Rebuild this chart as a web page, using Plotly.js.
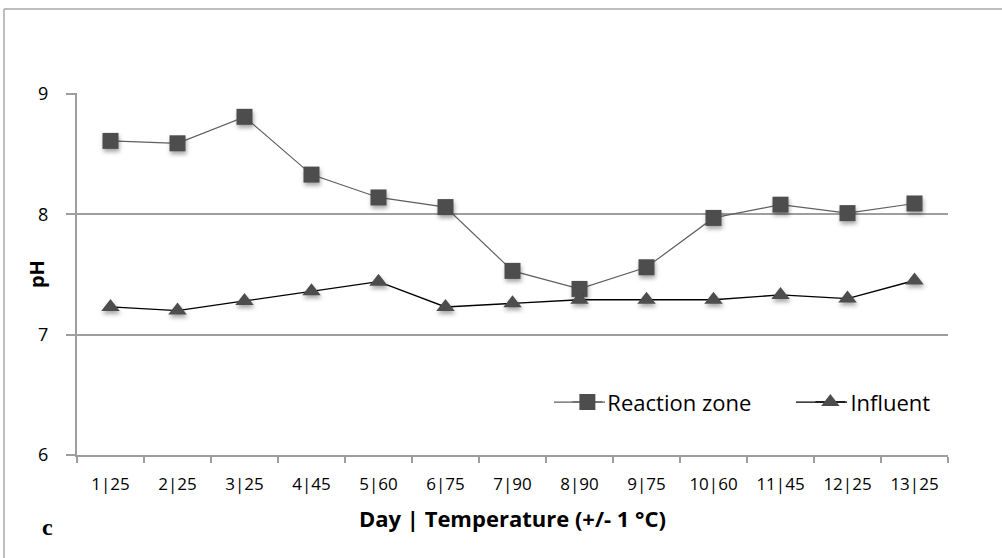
<!DOCTYPE html>
<html>
<head>
<meta charset="utf-8">
<script src="https://cdn.plot.ly/plotly-3.0.1.min.js"></script>
<style>
html,body{margin:0;padding:0;background:#fff;}
#chart{width:1002px;height:558px;}
#chart .scatterlayer .points path{filter: drop-shadow(1px 3px 2px rgba(0,0,0,0.35));}
</style>
</head>
<body>
<div id="chart"></div>
<script>
const categories = ["1|25","2|25","3|25","4|45","5|60","6|75","7|90","8|90","9|75","10|60","11|45","12|25","13|25"];
const reactionZone = [8.61, 8.59, 8.81, 8.33, 8.14, 8.06, 7.53, 7.38, 7.56, 7.97, 8.08, 8.01, 8.09];
const influent = [7.23, 7.20, 7.28, 7.36, 7.44, 7.23, 7.26, 7.29, 7.29, 7.29, 7.33, 7.30, 7.45];
const yTicks = [6, 7, 8, 9];

const font = "Open Sans, Liberation Sans, sans-serif";
const gridColor = "#9e9e9e";

const traces = [
  {
    x: categories, y: reactionZone, name: "Reaction zone", type: "scatter", mode: "lines+markers",
    line: {color: "#5f5f5f", width: 1.2},
    marker: {symbol: "square", size: 16, color: "#4d4d4d"},
    legend: "legend"
  },
  {
    x: categories, y: influent, name: "Influent", type: "scatter", mode: "lines+markers",
    line: {color: "#000000", width: 1.3},
    marker: {symbol: "triangle-up", size: 16, color: "#4d4d4d"},
    legend: "legend2"
  }
];

const legendStyle = {
  orientation: "h", xanchor: "left", yanchor: "middle", y: 0.146,
  font: {size: 22, family: font, color: "#000"}, bgcolor: "rgba(0,0,0,0)"
};

const layout = {
  width: 1002, height: 558,
  margin: {l: 77, r: 54, t: 93, b: 103},
  paper_bgcolor: "#fff", plot_bgcolor: "#fff",
  font: {family: font, color: "#000"},
  showlegend: true,
  legend: Object.assign({}, legendStyle, {x: 0.563}),
  legend2: Object.assign({}, legendStyle, {x: 0.842}),
  xaxis: {
    type: "category", range: [-0.5, 12.5], autorange: false,
    showgrid: false, showline: true, linecolor: gridColor, linewidth: 2,
    ticks: "outside", tickson: "boundaries", ticklen: 6, tickcolor: gridColor, tickwidth: 2,
    tickfont: {size: 17, family: font}, zeroline: false, ticklabelstandoff: 13,
    title: {text: "<b>Day | Temperature (+/- 1 °C)</b>", font: {size: 22, family: font}, standoff: 17}
  },
  yaxis: {
    range: [6, 9.008], autorange: false, tickvals: yTicks, ticktext: yTicks.map(String),
    showgrid: true, gridcolor: gridColor, gridwidth: 2,
    showline: true, linecolor: gridColor, linewidth: 2,
    ticks: "outside", ticklen: 9, tickcolor: gridColor, tickwidth: 2,
    tickfont: {size: 18, family: font}, zeroline: false, ticklabelstandoff: 14
  },
  shapes: [
    {type: "line", xref: "paper", yref: "paper", x0: -0.0838, x1: 1.07, y0: 1.232, y1: 1.232, line: {color: "#a8a8a8", width: 1.5}},
    {type: "line", xref: "paper", yref: "paper", x0: -0.0838, x1: -0.0838, y0: 1.232, y1: -0.3, line: {color: "#a8a8a8", width: 1.5}},
    {type: "line", xref: "paper", yref: "paper", x0: (554 - 77) / 871, x1: (605 - 77) / 871, y0: 0.146, y1: 0.146, line: {color: "#5f5f5f", width: 1.2}},
    {type: "line", xref: "paper", yref: "paper", x0: (796 - 77) / 871, x1: (847 - 77) / 871, y0: 0.146, y1: 0.146, line: {color: "#000000", width: 1.3}}
  ],
  annotations: [
    {text: "<b>pH</b>", xref: "paper", yref: "paper", x: -0.047, y: 0.5, xanchor: "center", yanchor: "middle", showarrow: false,
     textangle: -90, font: {family: font, size: 20, color: "#000"}},
    {text: "<b>c</b>", xref: "paper", yref: "paper", x: -0.034, y: -0.2, xanchor: "center", yanchor: "middle", showarrow: false,
     font: {family: "Liberation Serif, DejaVu Serif, serif", size: 24, color: "#000"}}
  ]
};

Plotly.newPlot("chart", traces, layout, {displayModeBar: false, staticPlot: true});
</script>
</body>
</html>
